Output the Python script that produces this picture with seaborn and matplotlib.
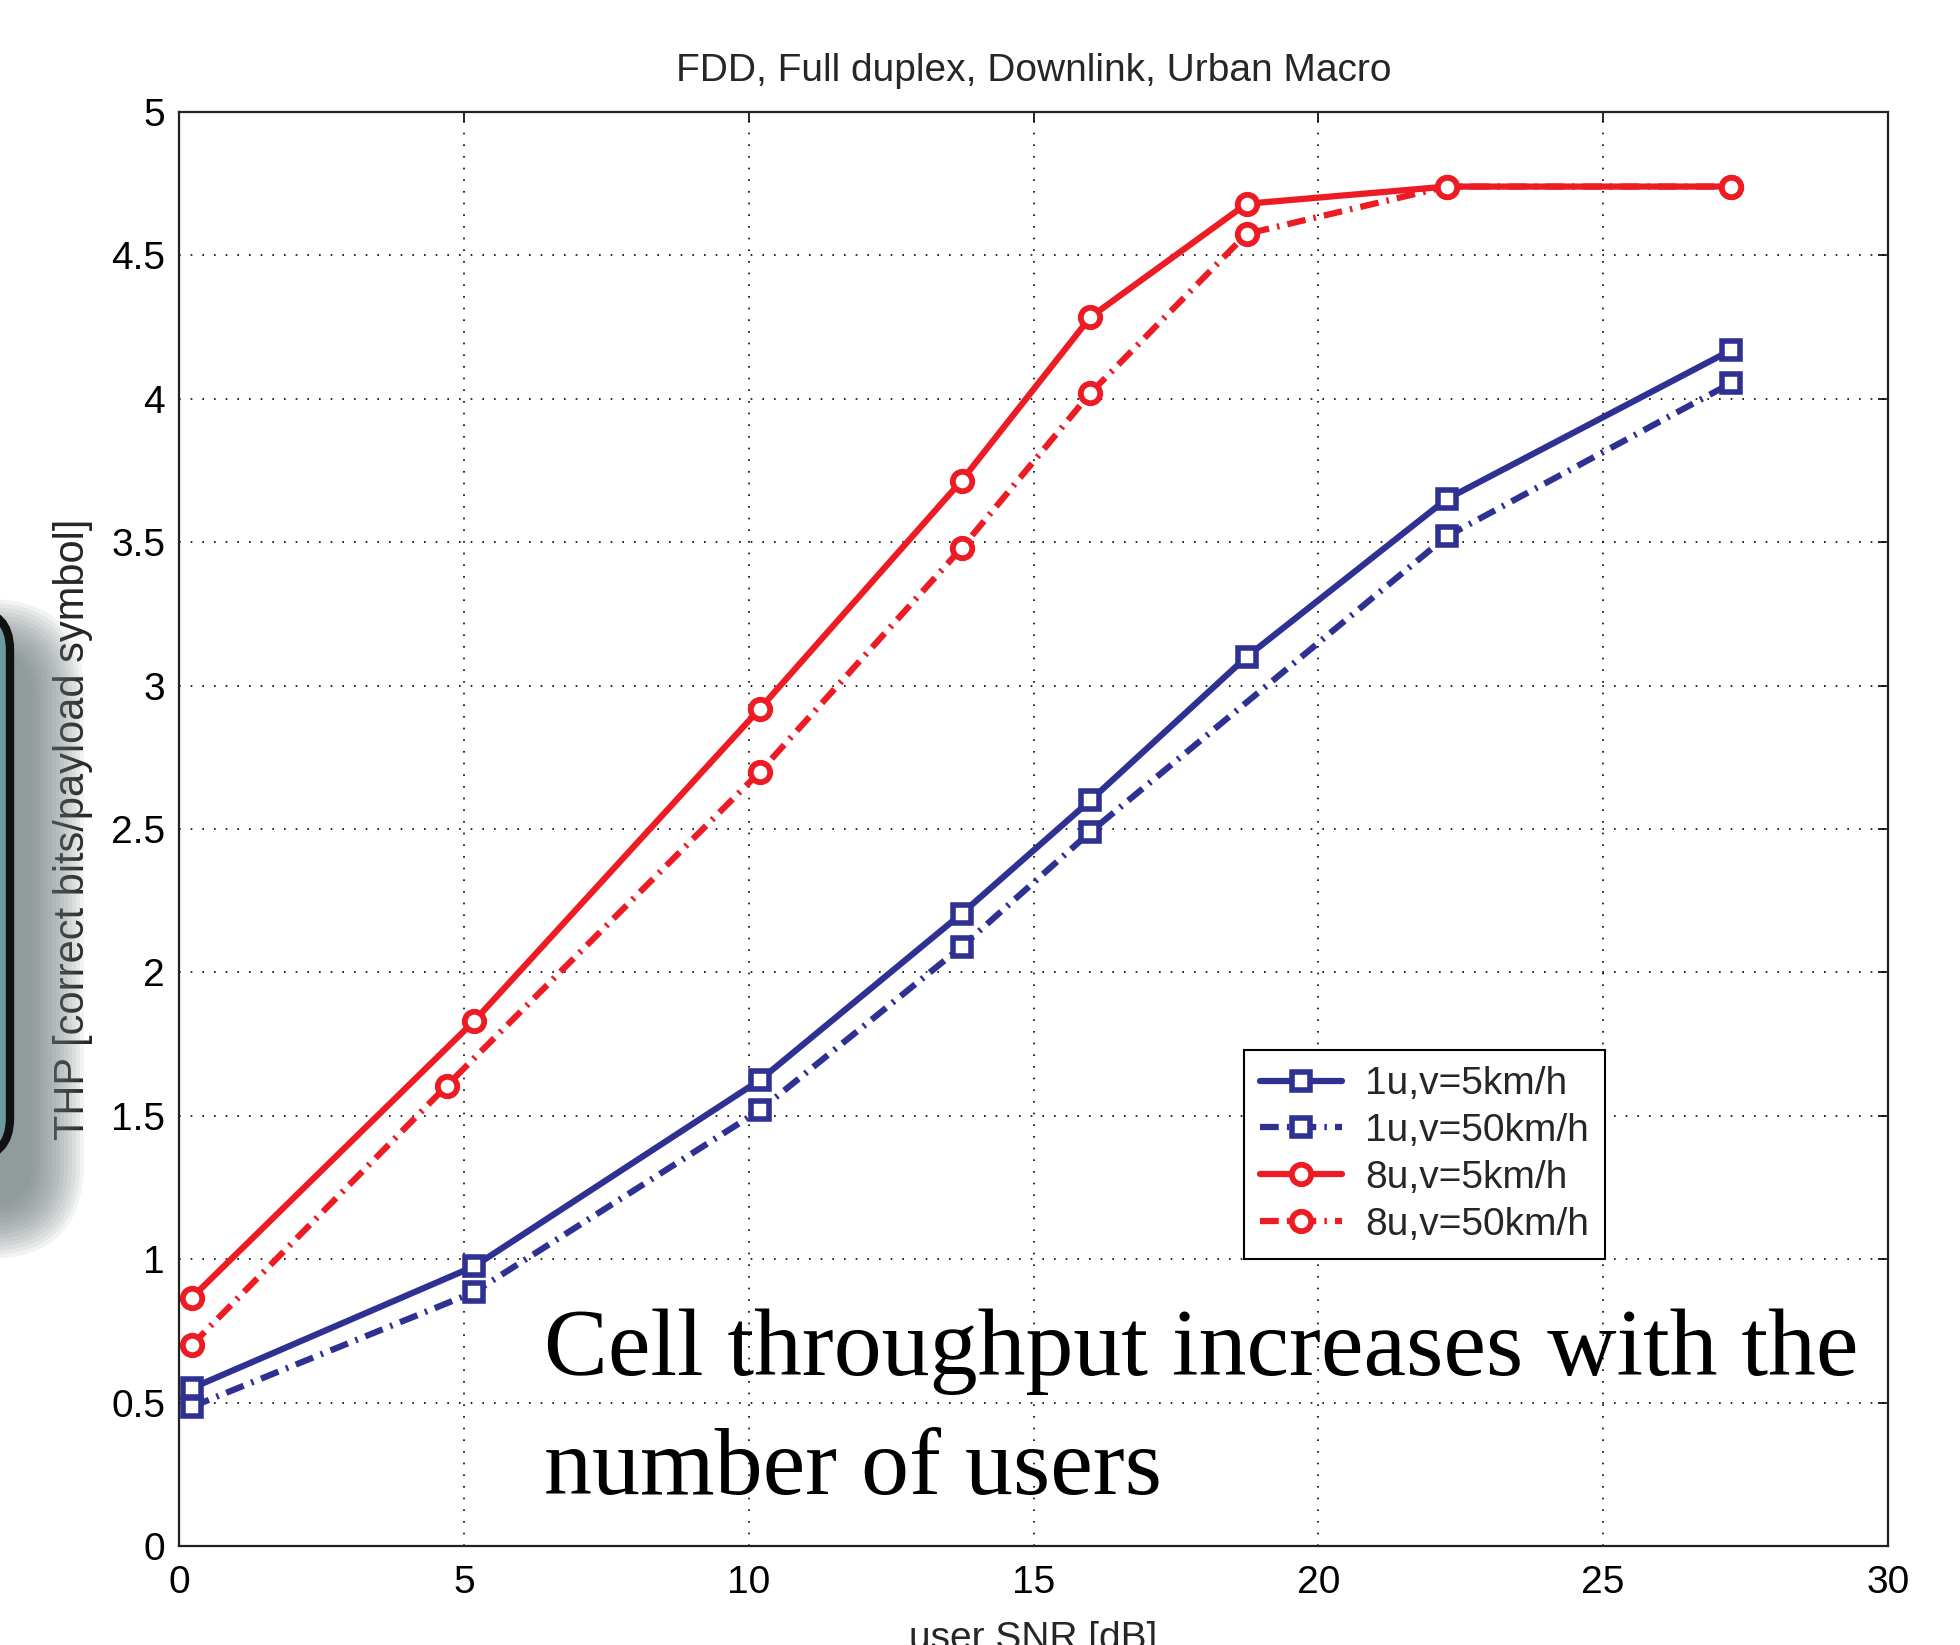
import numpy as np
import pandas as pd
import matplotlib
matplotlib.use('Agg')
import matplotlib.pyplot as plt
import seaborn as sns
from matplotlib.patches import FancyBboxPatch
from matplotlib.transforms import IdentityTransform

# ---- data ----
snr_1u_5 = [0.22, 5.18, 10.2, 13.74, 16.0, 18.74, 22.25, 27.25]
thp_1u_5 = [0.55, 0.975, 1.625, 2.205, 2.60, 3.10, 3.65, 4.17]
snr_1u_50 = [0.22, 5.18, 10.2, 13.74, 16.0, 22.25, 27.25]
thp_1u_50 = [0.485, 0.885, 1.52, 2.09, 2.49, 3.52, 4.055]
snr_8u_5 = [0.22, 5.18, 10.2, 13.74, 16.0, 18.74, 22.25, 27.25]
thp_8u_5 = [0.865, 1.83, 2.92, 3.715, 4.285, 4.68, 4.74, 4.74]
snr_8u_50 = [0.22, 4.7, 10.2, 13.74, 16.0, 18.74, 22.25, 27.25]
thp_8u_50 = [0.70, 1.605, 2.70, 3.48, 4.02, 4.575, 4.74, 4.74]

labels = ["1u,v=5km/h", "1u,v=50km/h", "8u,v=5km/h", "8u,v=50km/h"]
x_ticks = [0, 5, 10, 15, 20, 25, 30]
y_ticks = [0, 0.5, 1, 1.5, 2, 2.5, 3, 3.5, 4, 4.5, 5]
y_tick_labels = ["0", "0.5", "1", "1.5", "2", "2.5", "3", "3.5", "4", "4.5", "5"]

title = "FDD, Full duplex, Downlink, Urban Macro"
xlabel = "user SNR [dB]"
ylabel = "THP [correct bits/payload symbol]"
note_line1 = "Cell throughput increases with the"
note_line2 = "number of users"

BLUE = "#2e3192"
RED = "#ed1c24"

sns.set_style("white")
plt.rcParams['font.family'] = ['Liberation Sans', 'DejaVu Sans']

fig = plt.figure(figsize=(19.6, 16.45), dpi=100)
ax = fig.add_axes([179/1960, 1 - 1546/1645, (1888-179)/1960, (1546-112)/1645])

dashdot = (0, (3, 1.3, 0.4, 1.3))
series = [
    (snr_1u_5, thp_1u_5, BLUE, '-', 's', 12.5, 4.0, labels[0]),
    (snr_1u_50, thp_1u_50, BLUE, dashdot, 's', 12.5, 4.0, labels[1]),
    (snr_8u_5, thp_8u_5, RED, '-', 'o', 14, 4.2, labels[2]),
    (snr_8u_50, thp_8u_50, RED, dashdot, 'o', 14, 4.2, labels[3]),
]
for xs, ys, c, ls, m, ms, mew, lab in series:
    df = pd.DataFrame({"snr": xs, "thp": ys})
    sns.lineplot(data=df, x="snr", y="thp", ax=ax, color=c, linestyle=ls,
                 linewidth=4.5, marker=m, markersize=ms, markerfacecolor='white',
                 markeredgecolor=c, markeredgewidth=mew, label=lab,
                 sort=False, estimator=None)

ax.set_xlim(0, 30)
ax.set_ylim(0, 5)
ax.set_xticks(x_ticks)
ax.set_xticklabels([str(t) for t in x_ticks])
ax.set_yticks(y_ticks)
ax.set_yticklabels(y_tick_labels)
ax.grid(True, color='black', linestyle=(0, (1, 6)), linewidth=1.2)
ax.tick_params(direction='in', length=7, width=1.2, top=True, right=True,
               labelsize=28, colors='black')
ax.tick_params(axis='x', pad=14)
ax.tick_params(axis='y', pad=10)
for s in ax.spines.values():
    s.set_visible(True)
    s.set_color('#222222')
    s.set_linewidth(1.6)

ax.set_title(title, fontsize=28, pad=22)
ax.set_xlabel(xlabel, fontsize=28, labelpad=14)
ax.set_ylabel(ylabel, fontsize=30, labelpad=13)

leg = ax.legend(loc='upper left', bbox_to_anchor=(0.623, 0.346), fontsize=28,
                frameon=True, fancybox=False, edgecolor='black', framealpha=1,
                handlelength=2.1, handletextpad=0.6, labelspacing=0.28,
                borderpad=0.42, borderaxespad=0)
leg.get_frame().set_linewidth(1.5)

# annotation in serif
fig.text(544/1960, 1 - 1375/1645, note_line1, fontsize=69, color='black',
         family=['Liberation Serif', 'DejaVu Serif'], ha='left', va='baseline')
fig.text(544/1960, 1 - 1494/1645, note_line2, fontsize=69, color='black',
         family=['Liberation Serif', 'DejaVu Serif'], ha='left', va='baseline')

# left decoration: rounded dark box partially off-canvas with shadow
H = 1645
box_x0, box_x1 = -80, 10
box_top, box_bot = 610, 1158
for i in range(14):
    grow = 4 + i * 4
    shadow = FancyBboxPatch((box_x0 + 18 - grow, H - box_bot - 45 - grow),
                            (box_x1 - box_x0) + 2 * grow, (box_bot - box_top) + 2 * grow,
                            boxstyle="round,pad=0,rounding_size=%d" % (40 + grow),
                            transform=IdentityTransform(), facecolor='#6f7b7b',
                            edgecolor='none', alpha=0.09, zorder=0)
    fig.patches.append(shadow)
box = FancyBboxPatch((box_x0, H - box_bot), box_x1 - box_x0, box_bot - box_top,
                     boxstyle="round,pad=0,rounding_size=40",
                     transform=IdentityTransform(), facecolor='#6d9a9d',
                     edgecolor='#111111', linewidth=6, zorder=1)
fig.patches.append(box)

fig.savefig("out.png", dpi=100)
